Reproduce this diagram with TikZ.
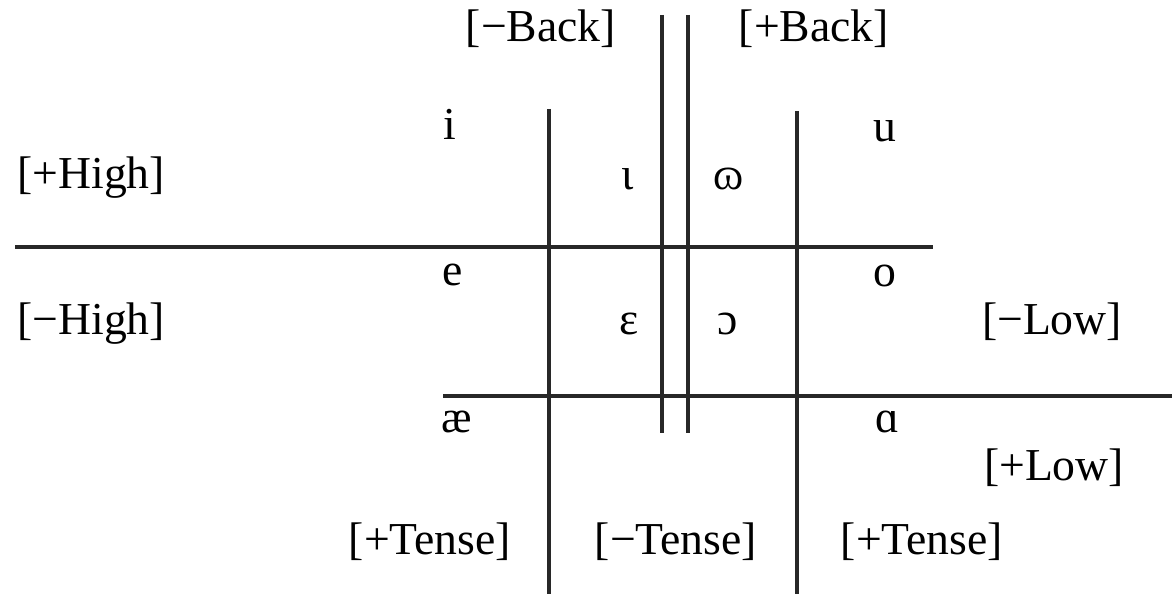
\documentclass[tikz,border=0pt]{standalone}
\usepackage{fontspec}
\setmainfont{Liberation Serif}
\usepackage{tikz}
\definecolor{rulec}{RGB}{40,40,40}
\tikzset{
  feat/.style  = {font=\fontsize{26}{30}\selectfont, inner sep=0pt, anchor=base},
  vowel/.style = {font=\fontsize{26}{30}\selectfont, inner sep=0pt, anchor=base},
  rule/.style  = {draw=rulec, line width=1.8pt},
}

\begin{document}
\begin{tikzpicture}[x=0.02cm, y=-0.02cm]

\useasboundingbox (0,0) rectangle (1172,594);

% grid lines
\draw[rule] (549,109) -- (549,594);
\draw[rule] (797,111) -- (797,594);
\draw[rule] (662,15) -- (662,433);
\draw[rule] (688,15) -- (688,433);
\draw[rule] (15,247) -- (933,247);
\draw[rule] (443,396) -- (1172,396);

% feature labels
\node[feat] (mback) at (541,42) {[−Back]};
\node[feat] (pback) at (814,42) {[+Back]};
\node[feat, anchor=base west] (phigh) at (17,189) {[+High]};
\node[feat, anchor=base west] (mhigh) at (17,335) {[−High]};
\node[feat] (mlow) at (1052,335) {[−Low]};
\node[feat] (plow) at (1054,480) {[+Low]};
\node[feat] (ptensel) at (430,554) {[+Tense]};
\node[feat] (mtense) at (676,554) {[−Tense]};
\node[feat] (ptenser) at (922,554) {[+Tense]};

% vowels
\node[vowel] (vi)  at (450,140) {i};
\node[vowel] (vI)  at (628,190) {ɩ};
\node[vowel] (vU)  at (729,190) {ɷ};
\node[vowel] (vu)  at (885,142) {u};
\node[vowel] (ve)  at (453,286) {e};
\node[vowel] (vE)  at (629,335) {ɛ};
\node[vowel] (vO)  at (728,335) {ɔ};
\node[vowel] (vo)  at (885,287) {o};
\node[vowel] (vae) at (457,432) {æ};
\node[vowel] (va)  at (887,432) {ɑ};

\end{tikzpicture}
\end{document}
